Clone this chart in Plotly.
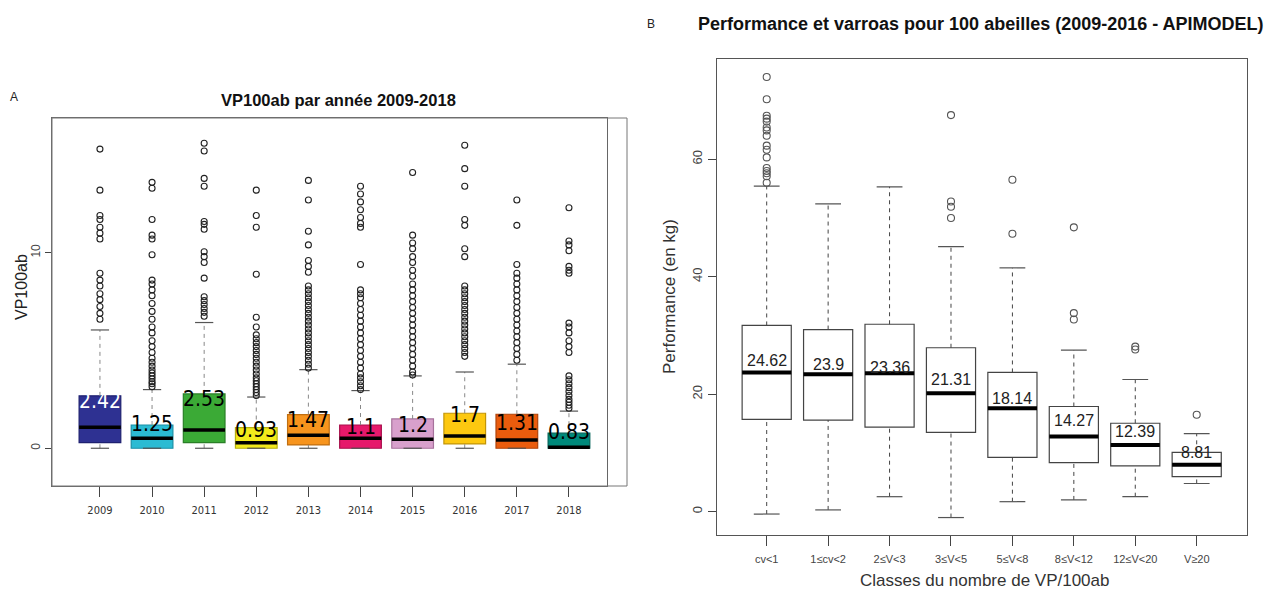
import plotly.graph_objects as go

W, H = 1275, 590

# ---------------- Panel A data ----------------
years = ["2009", "2010", "2011", "2012", "2013", "2014", "2015", "2016", "2017", "2018"]
a_q1 = [0.29, 0.0, 0.29, 0.0, 0.17, 0.0, 0.0, 0.22, 0.0, 0.0]
a_median = [1.07, 0.51, 0.94, 0.28, 0.66, 0.51, 0.46, 0.63, 0.42, 0.05]
a_q3 = [2.68, 1.19, 2.78, 1.06, 1.72, 1.19, 1.50, 1.79, 1.74, 0.77]
a_lower = [0, 0, 0, 0, 0, 0, 0, 0, 0, 0]
a_upper = [6.05, 3.0, 6.43, 2.62, 4.02, 2.95, 3.7, 3.9, 4.3, 1.9]
a_means = [2.42, 1.25, 2.53, 0.93, 1.47, 1.1, 1.2, 1.7, 1.31, 0.83]
a_mean_text = ["2.42", "1.25", "2.53", "0.93", "1.47", "1.1", "1.2", "1.7", "1.31", "0.83"]
a_outliers = [
    [15.3, 13.2, 11.9, 11.7, 11.3, 11.0, 10.7, 8.95, 8.6, 8.3, 7.9, 7.6, 7.25, 6.9, 6.6],
    [13.6, 13.3, 11.7, 10.9, 10.7, 9.9, 8.6, 8.4, 8.1, 7.8, 7.4, 7.0, 6.6, 6.2, 5.9, 5.5,
     5.2, 4.9, 4.6, 4.4, 4.2, 4.0, 3.85, 3.7, 3.55, 3.4, 3.3, 3.15],
    [15.6, 15.2, 13.8, 13.4, 11.6, 11.45, 11.2, 10.05, 9.8, 9.5, 8.7, 7.75, 7.55, 7.35,
     7.15, 6.95, 6.75],
    [13.2, 11.9, 11.3, 8.9, 6.7, 6.2, 5.8, 5.6, 5.4, 5.2, 5.0, 4.8, 4.6, 4.4, 4.2, 4.0,
     3.8, 3.6, 3.45, 3.3, 3.15, 3.0, 2.85, 2.7],
    [13.7, 12.7, 11.1, 10.4, 9.6, 9.3, 9.0, 8.3, 8.1, 7.9, 7.7, 7.5, 7.3, 7.1, 6.9, 6.7,
     6.5, 6.3, 6.1, 5.9, 5.7, 5.5, 5.3, 5.1, 4.9, 4.7, 4.5, 4.3, 4.1],
    [13.4, 13.0, 12.6, 12.2, 11.8, 11.5, 11.3, 9.4, 8.1, 7.9, 7.7, 7.4, 7.1, 6.8, 6.5,
     6.2, 5.9, 5.6, 5.3, 5.0, 4.7, 4.4, 4.1, 3.8, 3.6, 3.4, 3.2, 3.0],
    [14.1, 10.9, 10.5, 10.2, 9.8, 9.5, 9.1, 8.8, 8.4, 8.1, 7.8, 7.5, 7.2, 6.9, 6.6, 6.3,
     6.0, 5.7, 5.4, 5.1, 4.8, 4.5, 4.2, 3.9, 3.75],
    [15.5, 14.3, 13.4, 11.7, 11.4, 10.2, 9.8, 8.3, 8.1, 7.9, 7.7, 7.5, 7.3, 7.1, 6.9, 6.7,
     6.5, 6.3, 6.1, 5.9, 5.7, 5.5, 5.3, 5.1, 4.9, 4.7],
    [12.7, 11.4, 9.4, 8.95, 8.7, 8.4, 8.1, 7.8, 7.5, 7.2, 6.9, 6.6, 6.3, 6.0, 5.7, 5.4,
     5.1, 4.8, 4.5],
    [12.3, 10.6, 10.4, 10.1, 9.3, 9.1, 8.95, 6.4, 6.2, 5.9, 5.5, 5.2, 4.9, 3.7, 3.5, 3.3,
     3.1, 2.9, 2.7, 2.5, 2.35, 2.2, 2.05],
]
a_fill = ["#2E3192", "#2BBBD3", "#3BAA36", "#F2EA1C", "#F7941D", "#E6196B",
          "#D8A0CC", "#FDC810", "#EA5C0D", "#00897B"]
a_edge = ["#1E2070", "#1A8FA6", "#2A7F27", "#B5AE10", "#C06E10", "#A8104C",
          "#A7729C", "#C29508", "#B0430A", "#006358"]
a_text_color = ["white", "black", "black", "black", "black", "black", "black", "black", "black", "black"]
a_yticks = [0, 10]

# ---------------- Panel B data ----------------
b_cats = ["cv<1", "1≤cv<2", "2≤V<3", "3≤V<5", "5≤V<8", "8≤V<12", "12≤V<20", "V≥20"]
b_q1 = [15.7, 15.6, 14.4, 13.5, 9.25, 8.35, 7.8, 5.96]
b_median = [23.7, 23.4, 23.55, 20.15, 17.6, 12.8, 11.35, 8.0]
b_q3 = [31.7, 31.0, 31.9, 27.9, 23.7, 17.9, 15.05, 10.1]
b_lower = [-0.4, 0.3, 2.55, -1.0, 1.7, 2.0, 2.55, 4.8]
b_upper = [55.4, 52.4, 55.3, 45.1, 41.5, 27.5, 22.5, 13.3]
b_means = [24.62, 23.9, 23.36, 21.31, 18.14, 14.27, 12.39, 8.81]
b_mean_text = ["24.62", "23.9", "23.36", "21.31", "18.14", "14.27", "12.39", "8.81"]
b_outliers = [
    [74.0, 70.2, 67.4, 66.9, 66.4, 65.4, 64.9, 64.0, 62.3, 61.6, 60.3, 58.5, 58.0, 57.6, 57.1, 56.0],
    [],
    [],
    [67.5, 52.8, 51.9, 50.0],
    [56.5, 47.3],
    [48.4, 33.8, 32.7],
    [28.1, 27.6],
    [16.5],
]
b_yticks = [0, 20, 40, 60]

# ---------------- figure ----------------
fig = go.Figure()


def px_x(p):
    return p / W


def px_y(p):
    return 1 - p / H


BOXW = 0.8
AXC = "#555555"
SANS = "Liberation Sans, Arial, Helvetica, sans-serif"
NARROW = "Liberation Sans Narrow, DejaVu Sans Condensed, Arial Narrow, Liberation Sans, sans-serif"


def add_panel(xa, ya, q1, med, q3, lo, up, outl, fills, edges, capw, medw, whc, mk_color, mk_size):
    n = len(q1)
    xs = list(range(1, n + 1))
    for i in range(n):
        fig.add_trace(go.Box(
            x=[xs[i]], q1=[q1[i]], median=[med[i]], q3=[q3[i]],
            lowerfence=[q1[i]], upperfence=[q3[i]],
            width=BOXW, fillcolor=fills[i], line=dict(color=edges[i], width=1.2),
            xaxis=xa, yaxis=ya, showlegend=False, hoverinfo="skip",
        ))
    wx, wy = [], []
    for i in range(n):
        wx += [xs[i], xs[i], None, xs[i], xs[i], None]
        wy += [q3[i], up[i], None, lo[i], q1[i], None]
    fig.add_trace(go.Scatter(x=wx, y=wy, mode="lines", xaxis=xa, yaxis=ya,
                             line=dict(color=whc, width=1, dash="4px,4px"),
                             showlegend=False, hoverinfo="skip"))
    cx, cy = [], []
    for i in range(n):
        cx += [xs[i] - capw / 2, xs[i] + capw / 2, None, xs[i] - capw / 2, xs[i] + capw / 2, None]
        cy += [up[i], up[i], None, lo[i], lo[i], None]
    fig.add_trace(go.Scatter(x=cx, y=cy, mode="lines", xaxis=xa, yaxis=ya,
                             line=dict(color=AXC, width=1.2),
                             showlegend=False, hoverinfo="skip"))
    mx, my = [], []
    for i in range(n):
        mx += [xs[i] - BOXW / 2, xs[i] + BOXW / 2, None]
        my += [med[i], med[i], None]
    fig.add_trace(go.Scatter(x=mx, y=my, mode="lines", xaxis=xa, yaxis=ya,
                             line=dict(color="black", width=medw),
                             showlegend=False, hoverinfo="skip"))
    ox, oy = [], []
    for i in range(n):
        ox += [xs[i]] * len(outl[i])
        oy += outl[i]
    fig.add_trace(go.Scatter(x=ox, y=oy, mode="markers", xaxis=xa, yaxis=ya,
                             marker=dict(symbol="circle-open", size=mk_size,
                                         color=mk_color, line=dict(width=1.1, color=mk_color)),
                             showlegend=False, hoverinfo="skip"))


add_panel("x", "y", a_q1, a_median, a_q3, a_lower, a_upper, a_outliers,
          a_fill, a_edge, 0.35, 3.5, "#888888", "#222222", 6)
add_panel("x2", "y2", b_q1, b_median, b_q3, b_lower, b_upper, b_outliers,
          ["white"] * len(b_cats), ["#444444"] * len(b_cats), 0.42, 4, "#444444", "#555555", 7)

annotations = []
for i, t in enumerate(a_mean_text):
    annotations.append(dict(x=i + 1, y=a_means[i], xref="x", yref="y", text=t, showarrow=False,
                            xanchor="center", yanchor="middle",
                            font=dict(family=NARROW, size=21, color=a_text_color[i])))
for i, t in enumerate(b_mean_text):
    annotations.append(dict(x=i + 1, y=b_means[i], xref="x2", yref="y2", text=t, showarrow=False,
                            xanchor="center", yanchor="middle", yshift=7,
                            font=dict(family=SANS, size=16, color="#222222")))


def plabel(px, py, text, size, color="#222222", angle=0):
    return dict(x=px_x(px), y=px_y(py), xref="paper", yref="paper", text=text, showarrow=False,
                xanchor="center", yanchor="middle", textangle=angle,
                font=dict(family=SANS, size=size, color=color))


annotations += [
    plabel(14, 97, "A", 12),
    plabel(338, 100, "<b>VP100ab par année 2009-2018</b>", 16.5, "#111111"),
    plabel(21, 287, "VP100ab", 16, "#222222", -90),
    plabel(651, 24, "B", 12),
    plabel(981, 24, "<b>Performance et varroas pour 100 abeilles (2009-2016 - APIMODEL)</b>", 18, "#111111"),
    plabel(670, 297, "Performance (en kg)", 17, "#333333", -90),
    plabel(985, 580, "Classes du nombre de VP/100ab", 17, "#333333"),
]

shapes = [
    dict(type="rect", xref="x domain", yref="y domain", x0=0, x1=(627 - 52) / (607 - 52), y0=0, y1=1,
         line=dict(color="#777777", width=1)),
]

fig.update_layout(
    width=W, height=H,
    margin=dict(l=0, r=0, t=0, b=0),
    paper_bgcolor="white", plot_bgcolor="white",
    showlegend=False,
    annotations=annotations,
    shapes=shapes,
    xaxis=dict(domain=[px_x(52), px_x(607)], range=[0.08, 10.73],
               tickvals=list(range(1, len(years) + 1)), ticktext=years,
               ticks="outside", ticklen=10, tickcolor="#444444", showgrid=False, zeroline=False,
               showline=True, mirror=True, linecolor="#666666", linewidth=1.2,
               tickfont=dict(family=NARROW, size=11, color="#333333"), ticklabelstandoff=4),
    yaxis=dict(domain=[px_y(486), px_y(118)], range=[-1.93, 16.89],
               tickvals=a_yticks, ticktext=[str(v) for v in a_yticks], tickangle=-90,
               ticks="outside", ticklen=6, tickcolor="#444444", showgrid=False, zeroline=False,
               showline=True, mirror=True, linecolor="#666666", linewidth=1,
               tickfont=dict(family=SANS, size=12, color="#444444")),
    xaxis2=dict(domain=[px_x(716.7), px_x(1246.7)], range=[0.186, 8.814], anchor="y2",
                tickvals=list(range(1, len(b_cats) + 1)), ticktext=b_cats,
                ticks="outside", ticklen=10, tickcolor="#444444", showgrid=False, zeroline=False,
                showline=True, mirror=True, linecolor="#555555", linewidth=1.2,
                tickfont=dict(family=SANS, size=11, color="#444444"), ticklabelstandoff=4),
    yaxis2=dict(domain=[px_y(535), px_y(59.3)], range=[-3.97, 77.0], anchor="x2",
                tickvals=b_yticks, ticktext=[str(v) for v in b_yticks], tickangle=-90,
                ticks="outside", ticklen=8, tickcolor="#444444", showgrid=False, zeroline=False,
                showline=True, mirror=True, linecolor="#555555", linewidth=1.2,
                tickfont=dict(family=SANS, size=13, color="#444444")),
)

fig.write_html("out.html")
